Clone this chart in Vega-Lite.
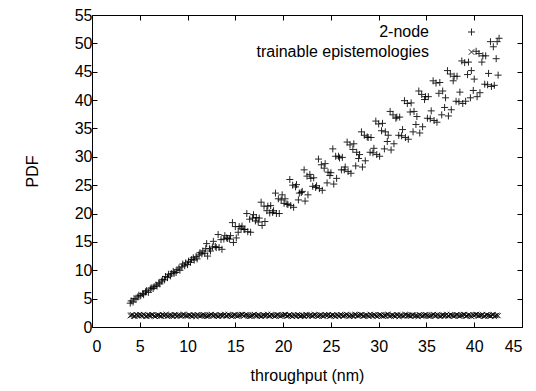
{
"$schema": "https://vega.github.io/schema/vega-lite/v6.json",
"width": 430, "height": 312,
"autosize": {"type": "none"},
"padding": {"left": 92, "top": 15, "right": 14, "bottom": 64},
"background": "white",
"config": {
  "view": {"stroke": "black", "strokeWidth": 1},
  "font": "Liberation Sans",
  "axis": {"grid": false, "domain": false, "tickColor": "black", "tickSize": -5, "labelFontSize": 16, "titleFontSize": 16, "titleFontWeight": "normal", "labelColor": "black", "titleColor": "black", "labelFont": "Liberation Sans", "titleFont": "Liberation Sans"},
  "legend": {"labelFont": "Liberation Sans", "labelFontSize": 16, "labelColor": "black"}
},
"datasets": {
"node": [
{"x":4.0,"y":4.2},{"x":4.1,"y":4.6},{"x":4.3,"y":4.4},{"x":4.4,"y":5.0},{"x":4.6,"y":4.9},{"x":4.8,"y":5.3},{"x":4.9,"y":5.6},{"x":5.1,"y":5.5},{"x":5.3,"y":5.9},{"x":5.4,"y":5.7},{"x":5.6,"y":6.2},{"x":5.7,"y":6.4},{"x":5.9,"y":6.1},{"x":6.1,"y":6.7},{"x":6.2,"y":6.9},{"x":6.4,"y":6.8},{"x":6.5,"y":7.1},{"x":6.7,"y":7.4},{"x":6.8,"y":7.2},{"x":7.0,"y":7.8},{"x":7.1,"y":7.6},{"x":7.3,"y":8.1},{"x":7.4,"y":8.4},{"x":7.6,"y":8.3},{"x":7.7,"y":8.9},{"x":7.9,"y":8.7},{"x":8.0,"y":9.3},{"x":8.2,"y":9.0},{"x":8.3,"y":9.4},{"x":8.5,"y":9.8},{"x":8.6,"y":9.5},{"x":8.8,"y":9.6},{"x":8.9,"y":10.1},{"x":9.1,"y":10.4},{"x":9.2,"y":10.0},{"x":9.4,"y":10.6},{"x":9.5,"y":11.1},{"x":9.7,"y":10.8},{"x":9.8,"y":11.3},{"x":10.0,"y":11.0},{"x":10.1,"y":11.6},{"x":10.3,"y":11.4},{"x":10.4,"y":11.9},{"x":10.6,"y":12.2},{"x":10.7,"y":11.8},{"x":10.9,"y":12.4},{"x":11.0,"y":12.0},{"x":11.2,"y":12.7},{"x":11.3,"y":13.1},{"x":11.5,"y":12.9},{"x":11.6,"y":13.4},{"x":11.8,"y":13.0},{"x":11.9,"y":13.8},
{"x":12.0,"y":14.7},{"x":12.1,"y":12.5},{"x":12.3,"y":13.8},{"x":12.4,"y":13.4},{"x":12.6,"y":14.1},{"x":12.7,"y":15.1},{"x":12.9,"y":14.2},{"x":13.0,"y":14.0},{"x":13.2,"y":16.3},{"x":13.3,"y":14.0},{"x":13.5,"y":15.4},{"x":13.6,"y":13.7},{"x":13.8,"y":15.5},{"x":13.9,"y":16.1},{"x":14.1,"y":15.7},{"x":14.2,"y":15.6},{"x":14.4,"y":15.5},{"x":14.5,"y":16.1},{"x":14.7,"y":18.4},{"x":14.8,"y":14.9},{"x":15.0,"y":17.7},{"x":15.1,"y":15.7},{"x":15.3,"y":16.7},{"x":15.4,"y":17.7},{"x":15.6,"y":17.4},{"x":15.7,"y":17.8},{"x":15.9,"y":17.2},{"x":16.0,"y":17.2},{"x":16.2,"y":20.0},{"x":16.3,"y":16.8},{"x":16.5,"y":19.0},{"x":16.6,"y":16.7},{"x":16.8,"y":19.2},{"x":16.9,"y":19.8},{"x":17.1,"y":18.7},{"x":17.2,"y":19.3},{"x":17.4,"y":18.5},{"x":17.5,"y":19.2},{"x":17.7,"y":22.0},{"x":17.8,"y":17.9},{"x":18.0,"y":21.3},{"x":18.1,"y":18.6},{"x":18.3,"y":20.5},{"x":18.4,"y":21.3},{"x":18.6,"y":20.1},{"x":18.7,"y":21.4},{"x":18.9,"y":20.2},{"x":19.0,"y":20.5},{"x":19.2,"y":23.6},{"x":19.3,"y":20.0},{"x":19.5,"y":22.6},{"x":19.6,"y":20.0},{"x":19.8,"y":22.4},{"x":19.9,"y":23.3},
{"x":20.1,"y":21.8},{"x":20.2,"y":22.6},{"x":20.4,"y":21.7},{"x":20.5,"y":21.6},{"x":20.7,"y":26.0},{"x":20.8,"y":21.4},{"x":21.0,"y":25.0},{"x":21.1,"y":21.1},{"x":21.3,"y":24.7},{"x":21.4,"y":25.1},{"x":21.6,"y":22.4},{"x":21.7,"y":23.6},{"x":21.9,"y":23.7},{"x":22.0,"y":23.9},{"x":22.2,"y":27.7},{"x":22.3,"y":22.2},{"x":22.5,"y":26.6},{"x":22.6,"y":23.3},{"x":22.8,"y":26.9},{"x":22.9,"y":26.2},{"x":23.1,"y":24.8},{"x":23.2,"y":26.3},{"x":23.4,"y":24.6},{"x":23.5,"y":24.9},{"x":23.7,"y":29.6},{"x":23.8,"y":24.4},{"x":24.0,"y":28.6},{"x":24.1,"y":24.1},{"x":24.3,"y":28.0},{"x":24.4,"y":28.8},{"x":24.6,"y":25.4},{"x":24.7,"y":27.3},{"x":24.9,"y":26.7},{"x":25.0,"y":27.2},{"x":25.2,"y":31.4},{"x":25.3,"y":25.2},{"x":25.5,"y":30.1},{"x":25.6,"y":26.2},{"x":25.8,"y":30.1},{"x":25.9,"y":29.8},{"x":26.1,"y":27.7},{"x":26.2,"y":29.9},{"x":26.4,"y":27.7},{"x":26.5,"y":28.2},{"x":26.7,"y":32.6},{"x":26.8,"y":27.4},{"x":27.0,"y":32.1},{"x":27.1,"y":27.1},{"x":27.3,"y":31.3},{"x":27.4,"y":32.3},{"x":27.6,"y":28.4},{"x":27.7,"y":30.8},{"x":27.9,"y":29.7},
{"x":28.0,"y":30.4},{"x":28.2,"y":34.4},{"x":28.3,"y":28.2},{"x":28.5,"y":33.8},{"x":28.6,"y":29.3},{"x":28.8,"y":33.5},{"x":28.9,"y":33.4},{"x":29.1,"y":30.8},{"x":29.2,"y":33.4},{"x":29.4,"y":30.7},{"x":29.5,"y":31.5},{"x":29.7,"y":36.3},{"x":29.8,"y":30.4},{"x":30.0,"y":35.8},{"x":30.1,"y":30.1},{"x":30.3,"y":34.6},{"x":30.4,"y":35.9},{"x":30.6,"y":31.4},{"x":30.7,"y":34.4},{"x":30.9,"y":32.7},{"x":31.0,"y":33.8},{"x":31.2,"y":38.0},{"x":31.3,"y":31.2},{"x":31.5,"y":37.4},{"x":31.6,"y":32.3},{"x":31.8,"y":36.8},{"x":31.9,"y":37.0},{"x":32.1,"y":33.8},{"x":32.2,"y":37.0},{"x":32.4,"y":33.7},{"x":32.5,"y":34.8},{"x":32.7,"y":39.9},{"x":32.8,"y":33.4},{"x":33.0,"y":39.4},{"x":33.1,"y":33.1},{"x":33.3,"y":37.9},{"x":33.4,"y":39.5},{"x":33.6,"y":34.4},{"x":33.7,"y":38.0},{"x":33.9,"y":35.7},{"x":34.0,"y":37.1},{"x":34.2,"y":41.6},{"x":34.3,"y":34.2},{"x":34.5,"y":41.0},{"x":34.6,"y":35.3},{"x":34.8,"y":40.1},{"x":34.9,"y":40.6},{"x":35.1,"y":36.8},{"x":35.2,"y":40.6},{"x":35.4,"y":36.7},{"x":35.5,"y":38.1},{"x":35.7,"y":43.4},{"x":35.8,"y":36.4},
{"x":36.0,"y":43.0},{"x":36.1,"y":36.1},{"x":36.3,"y":41.2},{"x":36.4,"y":43.1},{"x":36.6,"y":37.4},{"x":36.7,"y":41.6},{"x":36.9,"y":38.7},{"x":37.0,"y":40.4},{"x":37.2,"y":45.2},{"x":37.3,"y":37.2},{"x":37.5,"y":44.6},{"x":37.6,"y":38.3},{"x":37.8,"y":43.4},{"x":37.9,"y":44.2},{"x":38.1,"y":39.8},{"x":38.2,"y":44.2},{"x":38.4,"y":39.7},{"x":38.5,"y":41.4},{"x":38.7,"y":46.9},{"x":38.8,"y":39.4},{"x":39.0,"y":46.6},{"x":39.1,"y":39.8},{"x":39.3,"y":44.5},{"x":39.4,"y":46.7},{"x":39.6,"y":40.4},{"x":39.7,"y":45.2},{"x":39.9,"y":41.7},{"x":40.0,"y":43.7},{"x":40.2,"y":48.6},{"x":40.3,"y":40.6},{"x":40.5,"y":48.2},{"x":40.6,"y":41.3},{"x":40.8,"y":46.7},{"x":40.9,"y":47.8},{"x":41.1,"y":42.8},{"x":41.2,"y":47.8},{"x":41.4,"y":42.7},{"x":41.5,"y":44.7},{"x":41.7,"y":50.3},{"x":41.8,"y":42.4},{"x":42.0,"y":49.4},{"x":42.1,"y":42.6},{"x":42.3,"y":47.3},{"x":42.4,"y":50.3},{"x":42.5,"y":44.4},{"x":42.6,"y":50.9}
],
"epi": [
{"x":4.0,"y":2.00},{"x":4.25,"y":2.15},{"x":4.5,"y":1.90},{"x":4.75,"y":2.05},{"x":5.0,"y":2.20},{"x":5.25,"y":1.95},{"x":5.5,"y":2.10},{"x":5.75,"y":1.85},{"x":6.0,"y":2.02},{"x":6.25,"y":2.18},{"x":6.5,"y":1.92},{"x":6.75,"y":2.08},{"x":7.0,"y":2.12},{"x":7.25,"y":1.88},{"x":7.5,"y":2.00},{"x":7.75,"y":2.22},{"x":8.0,"y":1.97},{"x":8.25,"y":2.06},{"x":8.5,"y":1.86},{"x":8.75,"y":2.14},{"x":9.0,"y":2.03},{"x":9.25,"y":1.93},{"x":9.5,"y":2.19},{"x":9.75,"y":2.01},
{"x":10.0,"y":1.95},{"x":10.25,"y":2.10},{"x":10.5,"y":1.85},{"x":10.75,"y":2.02},{"x":11.0,"y":2.18},{"x":11.25,"y":1.92},{"x":11.5,"y":2.08},{"x":11.75,"y":2.12},{"x":12.0,"y":1.88},{"x":12.25,"y":2.00},{"x":12.5,"y":2.22},{"x":12.75,"y":1.97},{"x":13.0,"y":2.06},{"x":13.25,"y":1.86},{"x":13.5,"y":2.14},{"x":13.75,"y":2.03},{"x":14.0,"y":1.93},{"x":14.25,"y":2.19},{"x":14.5,"y":2.01},{"x":14.75,"y":2.00},{"x":15.0,"y":2.15},{"x":15.25,"y":1.90},{"x":15.5,"y":2.05},{"x":15.75,"y":2.20},
{"x":16.0,"y":2.08},{"x":16.25,"y":2.12},{"x":16.5,"y":1.88},{"x":16.75,"y":2.00},{"x":17.0,"y":2.22},{"x":17.25,"y":1.97},{"x":17.5,"y":2.06},{"x":17.75,"y":1.86},{"x":18.0,"y":2.14},{"x":18.25,"y":2.03},{"x":18.5,"y":1.93},{"x":18.75,"y":2.19},{"x":19.0,"y":2.01},{"x":19.25,"y":2.00},{"x":19.5,"y":2.15},{"x":19.75,"y":1.90},{"x":20.0,"y":2.05},{"x":20.25,"y":2.20},{"x":20.5,"y":1.95},{"x":20.75,"y":2.10},{"x":21.0,"y":1.85},{"x":21.25,"y":2.02},{"x":21.5,"y":2.18},{"x":21.75,"y":1.92},
{"x":22.0,"y":2.06},{"x":22.25,"y":1.86},{"x":22.5,"y":2.14},{"x":22.75,"y":2.03},{"x":23.0,"y":1.93},{"x":23.25,"y":2.19},{"x":23.5,"y":2.01},{"x":23.75,"y":2.00},{"x":24.0,"y":2.15},{"x":24.25,"y":1.90},{"x":24.5,"y":2.05},{"x":24.75,"y":2.20},{"x":25.0,"y":1.95},{"x":25.25,"y":2.10},{"x":25.5,"y":1.85},{"x":25.75,"y":2.02},{"x":26.0,"y":2.18},{"x":26.25,"y":1.92},{"x":26.5,"y":2.08},{"x":26.75,"y":2.12},{"x":27.0,"y":1.88},{"x":27.25,"y":2.00},{"x":27.5,"y":2.22},{"x":27.75,"y":1.97},
{"x":28.0,"y":2.05},{"x":28.25,"y":2.20},{"x":28.5,"y":1.95},{"x":28.75,"y":2.10},{"x":29.0,"y":1.85},{"x":29.25,"y":2.02},{"x":29.5,"y":2.18},{"x":29.75,"y":1.92},{"x":30.0,"y":2.08},{"x":30.25,"y":2.12},{"x":30.5,"y":1.88},{"x":30.75,"y":2.00},{"x":31.0,"y":2.22},{"x":31.25,"y":1.97},{"x":31.5,"y":2.06},{"x":31.75,"y":1.86},{"x":32.0,"y":2.14},{"x":32.25,"y":2.03},{"x":32.5,"y":1.93},{"x":32.75,"y":2.19},{"x":33.0,"y":2.01},{"x":33.25,"y":2.00},{"x":33.5,"y":2.15},{"x":33.75,"y":1.90},
{"x":34.0,"y":2.02},{"x":34.25,"y":2.18},{"x":34.5,"y":1.92},{"x":34.75,"y":2.08},{"x":35.0,"y":2.12},{"x":35.25,"y":1.88},{"x":35.5,"y":2.00},{"x":35.75,"y":2.22},{"x":36.0,"y":1.97},{"x":36.25,"y":2.06},{"x":36.5,"y":1.86},{"x":36.75,"y":2.14},{"x":37.0,"y":2.03},{"x":37.25,"y":1.93},{"x":37.5,"y":2.19},{"x":37.75,"y":2.01},{"x":38.0,"y":2.00},{"x":38.25,"y":2.15},{"x":38.5,"y":1.90},{"x":38.75,"y":2.05},{"x":39.0,"y":2.20},{"x":39.25,"y":1.95},{"x":39.5,"y":2.10},{"x":39.75,"y":1.85},
{"x":40.0,"y":2.00},{"x":40.25,"y":2.22},{"x":40.5,"y":1.97},{"x":40.75,"y":2.06},{"x":41.0,"y":1.86},{"x":41.25,"y":2.14},{"x":41.5,"y":2.03},{"x":41.75,"y":1.93},{"x":42.0,"y":2.19},{"x":42.25,"y":2.01},{"x":42.5,"y":2.00},
{"x":4.125,"y":2.10},{"x":4.375,"y":1.88},{"x":4.625,"y":2.18},{"x":4.875,"y":1.96},{"x":5.125,"y":2.04},{"x":5.375,"y":2.21},{"x":5.625,"y":1.90},{"x":5.875,"y":2.12},{"x":6.125,"y":1.98},{"x":6.375,"y":2.16},{"x":6.625,"y":1.87},{"x":6.875,"y":2.07},{"x":7.125,"y":1.94},{"x":7.375,"y":2.20},{"x":7.625,"y":2.02},{"x":7.875,"y":1.89},{"x":8.125,"y":2.13},{"x":8.375,"y":2.00},{"x":8.625,"y":2.17},{"x":8.875,"y":1.91},{"x":9.125,"y":2.09},{"x":9.375,"y":1.99},{"x":9.625,"y":2.23},{"x":9.875,"y":1.95},
{"x":10.125,"y":2.12},{"x":10.375,"y":1.98},{"x":10.625,"y":2.16},{"x":10.875,"y":1.87},{"x":11.125,"y":2.07},{"x":11.375,"y":1.94},{"x":11.625,"y":2.20},{"x":11.875,"y":2.02},{"x":12.125,"y":1.89},{"x":12.375,"y":2.13},{"x":12.625,"y":2.00},{"x":12.875,"y":2.17},{"x":13.125,"y":1.91},{"x":13.375,"y":2.09},{"x":13.625,"y":1.99},{"x":13.875,"y":2.23},{"x":14.125,"y":1.95},{"x":14.375,"y":2.10},{"x":14.625,"y":1.88},{"x":14.875,"y":2.18},{"x":15.125,"y":1.96},{"x":15.375,"y":2.04},{"x":15.625,"y":2.21},{"x":15.875,"y":1.90},
{"x":16.125,"y":2.20},{"x":16.375,"y":2.02},{"x":16.625,"y":1.89},{"x":16.875,"y":2.13},{"x":17.125,"y":2.00},{"x":17.375,"y":2.17},{"x":17.625,"y":1.91},{"x":17.875,"y":2.09},{"x":18.125,"y":1.99},{"x":18.375,"y":2.23},{"x":18.625,"y":1.95},{"x":18.875,"y":2.10},{"x":19.125,"y":1.88},{"x":19.375,"y":2.18},{"x":19.625,"y":1.96},{"x":19.875,"y":2.04},{"x":20.125,"y":2.21},{"x":20.375,"y":1.90},{"x":20.625,"y":2.12},{"x":20.875,"y":1.98},{"x":21.125,"y":2.16},{"x":21.375,"y":1.87},{"x":21.625,"y":2.07},{"x":21.875,"y":1.94},
{"x":22.125,"y":2.04},{"x":22.375,"y":2.21},{"x":22.625,"y":1.90},{"x":22.875,"y":2.12},{"x":23.125,"y":1.98},{"x":23.375,"y":2.16},{"x":23.625,"y":1.87},{"x":23.875,"y":2.07},{"x":24.125,"y":1.94},{"x":24.375,"y":2.20},{"x":24.625,"y":2.02},{"x":24.875,"y":1.89},{"x":25.125,"y":2.13},{"x":25.375,"y":2.00},{"x":25.625,"y":2.17},{"x":25.875,"y":1.91},{"x":26.125,"y":2.09},{"x":26.375,"y":1.99},{"x":26.625,"y":2.23},{"x":26.875,"y":1.95},{"x":27.125,"y":2.10},{"x":27.375,"y":1.88},{"x":27.625,"y":2.18},{"x":27.875,"y":1.96},
{"x":28.125,"y":2.17},{"x":28.375,"y":1.91},{"x":28.625,"y":2.09},{"x":28.875,"y":1.99},{"x":29.125,"y":2.23},{"x":29.375,"y":1.95},{"x":29.625,"y":2.10},{"x":29.875,"y":1.88},{"x":30.125,"y":2.18},{"x":30.375,"y":1.96},{"x":30.625,"y":2.04},{"x":30.875,"y":2.21},{"x":31.125,"y":1.90},{"x":31.375,"y":2.12},{"x":31.625,"y":1.98},{"x":31.875,"y":2.16},{"x":32.125,"y":1.87},{"x":32.375,"y":2.07},{"x":32.625,"y":1.94},{"x":32.875,"y":2.20},{"x":33.125,"y":2.02},{"x":33.375,"y":1.89},{"x":33.625,"y":2.13},{"x":33.875,"y":2.00},
{"x":34.125,"y":1.87},{"x":34.375,"y":2.07},{"x":34.625,"y":1.94},{"x":34.875,"y":2.20},{"x":35.125,"y":2.02},{"x":35.375,"y":1.89},{"x":35.625,"y":2.13},{"x":35.875,"y":2.00},{"x":36.125,"y":2.17},{"x":36.375,"y":1.91},{"x":36.625,"y":2.09},{"x":36.875,"y":1.99},{"x":37.125,"y":2.23},{"x":37.375,"y":1.95},{"x":37.625,"y":2.10},{"x":37.875,"y":1.88},{"x":38.125,"y":2.18},{"x":38.375,"y":1.96},{"x":38.625,"y":2.04},{"x":38.875,"y":2.21},{"x":39.125,"y":1.90},{"x":39.375,"y":2.12},{"x":39.625,"y":1.98},{"x":39.875,"y":2.16},
{"x":40.125,"y":2.18},{"x":40.375,"y":1.96},{"x":40.625,"y":2.04},{"x":40.875,"y":2.21},{"x":41.125,"y":1.90},{"x":41.375,"y":2.12},{"x":41.625,"y":1.98},{"x":41.875,"y":2.16},{"x":42.125,"y":1.87},{"x":42.375,"y":2.07}
]
},
"layer": [
{
  "data": {"name": "node"},
  "mark": {"type": "point", "filled": false, "strokeWidth": 1, "opacity": 0.85, "color": "black", "size": 49},
  "encoding": {
    "x": {"field": "x", "type": "quantitative", "scale": {"domain": [0, 45], "nice": false, "zero": false},
      "axis": {"orient": "bottom", "values": [0,5,10,15,20,25,30,35,40,45], "labelPadding": 16, "title": "throughput (nm)", "titlePadding": 13}},
    "y": {"field": "y", "type": "quantitative", "scale": {"domain": [0, 55], "nice": false, "zero": false},
      "axis": {"orient": "left", "values": [0,5,10,15,20,25,30,35,40,45,50,55], "labelPadding": 5, "title": "PDF", "titlePadding": 34}},
    "shape": {"datum": "2-node", "type": "nominal",
      "scale": {"domain": ["2-node", "trainable epistemologies"], "range": ["M-1,0H1M0,-1V1", "M-0.8,-0.8L0.8,0.8M-0.8,0.8L0.8,-0.8"]},
      "legend": {"title": null, "orient": "none", "legendX": 371.5, "legendY": 9, "padding": 0, "symbolSize": 49, "symbolStrokeColor": "black", "symbolFillColor": "transparent", "symbolStrokeWidth": 1, "labelAlign": "right", "labelOffset": -50.5, "symbolOffset": 0, "labelLimit": 400, "rowPadding": 4}}
  }
},
{
  "data": {"name": "epi"},
  "mark": {"type": "point", "filled": false, "strokeWidth": 1, "opacity": 0.85, "color": "black", "size": 42},
  "encoding": {
    "x": {"field": "x", "type": "quantitative", "axis": {"orient": "top", "values": [0,5,10,15,20,25,30,35,40,45], "labels": false, "title": null}},
    "y": {"field": "y", "type": "quantitative", "axis": {"orient": "right", "values": [0,5,10,15,20,25,30,35,40,45,50,55], "labels": false, "title": null}},
    "shape": {"datum": "trainable epistemologies", "type": "nominal"}
  }
}
],
"resolve": {"axis": {"x": "independent", "y": "independent"}}
}
